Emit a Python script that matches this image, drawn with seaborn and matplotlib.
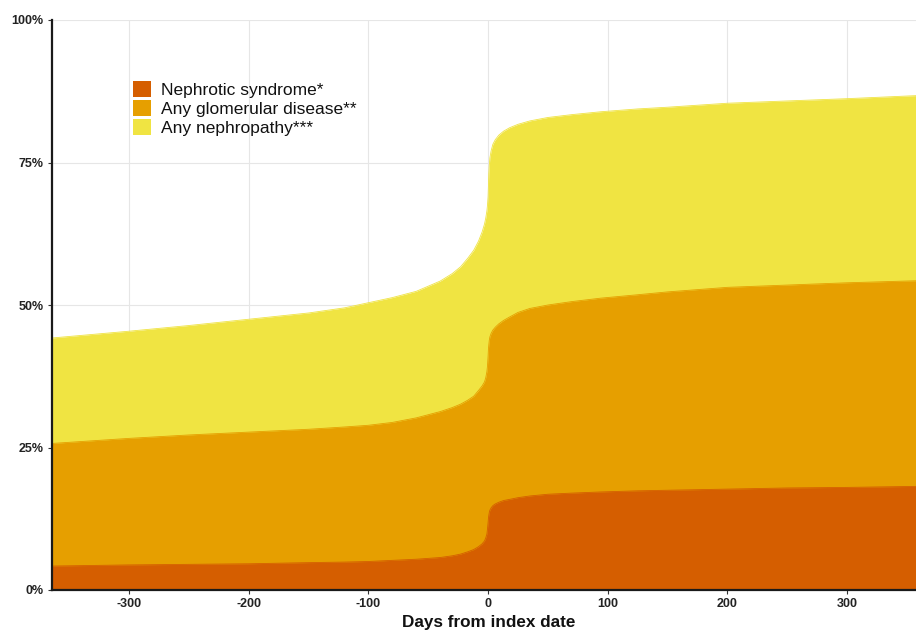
import matplotlib
matplotlib.use("Agg")
import matplotlib.pyplot as plt
import matplotlib.patches as mpatches
from matplotlib.ticker import FuncFormatter
import seaborn as sns
import pandas as pd

# ---- data ----
days = [-365, -300, -250, -200, -150, -120, -100, -80, -60, -40, -30, -23, -17, -12,
        -8, -5, -3, -2, -1, -0.5, 0, 0.3, 0.6, 1, 1.5, 2.5, 4, 6, 9, 13, 18, 25, 35,
        50, 70, 94, 125, 150, 200, 250, 300, 365]

any_nephropathy = [44.2, 45.4, 46.4, 47.5, 48.6, 49.5, 50.4, 51.3, 52.4, 54.2, 55.5,
                   56.7, 58.2, 59.6, 61.2, 62.8, 64.2, 65.2, 66.5, 67.5, 69.0, 71.0,
                   73.0, 74.5, 75.8, 77.0, 78.2, 79.0, 79.8, 80.5, 81.1, 81.7, 82.3,
                   82.9, 83.4, 83.9, 84.4, 84.7, 85.4, 85.8, 86.2, 86.8]

any_glomerular = [25.7, 26.6, 27.2, 27.7, 28.2, 28.6, 28.9, 29.4, 30.2, 31.3, 32.0,
                  32.6, 33.3, 34.0, 35.0, 35.8, 36.5, 37.2, 38.3, 39.3, 41.0, 42.3,
                  43.0, 43.8, 44.4, 45.0, 45.6, 46.1, 46.7, 47.3, 47.9, 48.7, 49.4,
                  50.0, 50.6, 51.2, 51.8, 52.3, 53.1, 53.5, 53.9, 54.3]

nephrotic = [4.2, 4.4, 4.5, 4.6, 4.8, 4.9, 5.0, 5.2, 5.4, 5.7, 6.0,
             6.3, 6.7, 7.1, 7.6, 8.1, 8.6, 9.1, 9.8, 10.7, 11.8, 12.6,
             13.1, 13.6, 14.0, 14.4, 14.8, 15.1, 15.4, 15.7, 15.9, 16.2, 16.5,
             16.8, 17.0, 17.2, 17.4, 17.5, 17.7, 17.9, 18.0, 18.2]

labels = ["Nephrotic syndrome*", "Any glomerular disease**", "Any nephropathy***"]
colors = ["#D55E00", "#E69F00", "#F0E442"]
x_ticks = [-300, -200, -100, 0, 100, 200, 300]
y_ticks = [0, 25, 50, 75, 100]

df = pd.DataFrame({
    "day": days * 3,
    "pct": nephrotic + any_glomerular + any_nephropathy,
    "group": [labels[0]] * len(days) + [labels[1]] * len(days) + [labels[2]] * len(days),
})

# ---- style ----
sns.set_theme(style="whitegrid")
plt.rcParams["font.family"] = ["Liberation Sans", "DejaVu Sans"]
plt.rcParams["axes.unicode_minus"] = False

fig = plt.figure(figsize=(9.16, 6.30), dpi=100)
# the panel runs slightly past the right edge of the picture (cropped, as in the reference)
ax = fig.add_axes([52 / 916, 40 / 630, 873 / 916, 570 / 630])

# draw areas: largest first so smaller ones sit on top
for lab, col in zip(labels[::-1], colors[::-1]):
    sub = df[df["group"] == lab]
    ax.fill_between(sub["day"], 0, sub["pct"], color=col, linewidth=0, zorder=2)
    sns.lineplot(data=sub, x="day", y="pct", color=col, linewidth=0.6, ax=ax,
                 zorder=2.5, legend=False, estimator=None, sort=False)

ax.set_xlim(-364.3, 365)
ax.set_ylim(0, 100)
ax.set_xticks(x_ticks)
ax.set_yticks(y_ticks)
ax.yaxis.set_major_formatter(FuncFormatter(lambda v, p: f"{int(v)}%"))

ax.grid(True, color="#e6e6e6", linewidth=0.8, zorder=0)
ax.set_axisbelow(True)
ax.set_facecolor("white")
for s in ["top", "right"]:
    ax.spines[s].set_visible(False)
for s in ["left", "bottom"]:
    ax.spines[s].set_visible(True)
    ax.spines[s].set_color("#1a1a1a")
    ax.spines[s].set_linewidth(1.6)
    ax.spines[s].set_zorder(5)

ax.tick_params(axis="both", which="major", direction="out", length=3, width=0.8,
               color="#333333", labelsize=9, labelcolor="#222222", pad=3,
               bottom=True, left=True)
for t in ax.get_xticklabels() + ax.get_yticklabels():
    t.set_fontweight("bold")

ax.set_xlabel("Days from index date", fontsize=12.3, fontweight="bold", color="#111111", labelpad=3)
ax.set_ylabel("")

handles = [mpatches.Patch(facecolor=c, edgecolor="none", label=l) for l, c in zip(labels, colors)]
leg = ax.legend(handles=handles, loc="upper left", bbox_to_anchor=(81 / 873, 0.893),
                frameon=False, fontsize=12.5, handlelength=1.05, handleheight=1.05,
                handletextpad=0.55, labelspacing=0.12, borderpad=0, borderaxespad=0)
for t in leg.get_texts():
    t.set_color("#111111")

fig.savefig("out.png", dpi=100, facecolor="white")
